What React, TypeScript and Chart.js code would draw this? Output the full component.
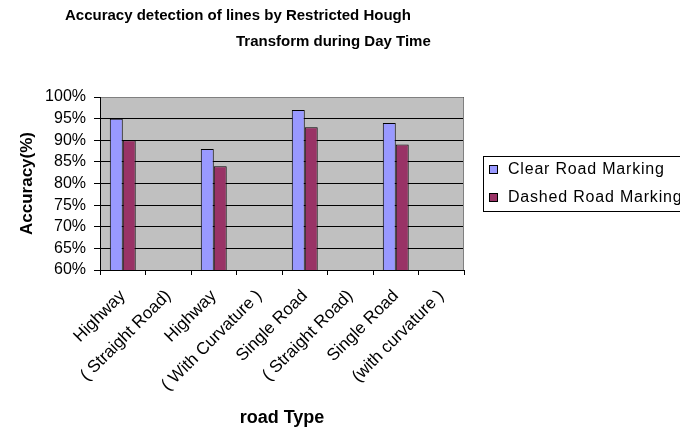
import React, { useEffect, useRef } from "react";
import { Chart, registerables } from "chart.js";

Chart.register(...registerables);

const FONT = "'Liberation Sans', Arial, Helvetica, sans-serif";

const titleLines = [
  "Accuracy detection of lines by Restricted Hough",
  "Transform during Day Time",
];
const categories = [
  "Highway",
  "( Straight Road)",
  "Highway",
  "( With Curvature )",
  "Single Road",
  "( Straight Road)",
  "Single Road",
  "(with curvature )",
];
const seriesNames = ["Clear Road Marking", "Dashed Road Marking"];
const clearRoad = [95, null, 88, null, 97, null, 94, null];
const dashedRoad = [90, null, 84, null, 93, null, 89, null];
const seriesColors = ["#9999FF", "#993366"];
const yMin = 60;
const yMax = 100;
const yStep = 5;
const xTitle = "road Type";
const yTitle = "Accuracy(%)";

export default function App() {
  const ref = useRef<HTMLCanvasElement>(null);

  useEffect(() => {
    if (!ref.current) return;
    const decor = {
      id: "decor",
      beforeDraw(chart: any) {
        const { ctx, chartArea: a } = chart;
        ctx.save();
        ctx.fillStyle = "#C0C0C0";
        ctx.fillRect(a.left, a.top, a.right - a.left, a.bottom - a.top);
        ctx.restore();
      },
      afterDraw(chart: any) {
        const { ctx, chartArea: a } = chart;
        ctx.save();
        // plot border (top/right)
        ctx.strokeStyle = "#808080";
        ctx.lineWidth = 1;
        ctx.beginPath();
        ctx.moveTo(a.left + 1, a.top + 0.5);
        ctx.lineTo(a.right - 0.5, a.top + 0.5);
        ctx.lineTo(a.right - 0.5, a.bottom);
        ctx.stroke();

        // title
        ctx.fillStyle = "#000";
        ctx.font = `bold 15px ${FONT}`;
        ctx.textBaseline = "middle";
        ctx.textAlign = "left";
        ctx.fillText(titleLines[0], 65, 16);
        ctx.fillText(titleLines[1], 236, 42);

        // legend
        const boxL = a.right + 19;
        const boxH = 55;
        const boxT = Math.round((a.top + a.bottom) / 2 - boxH / 2);
        ctx.strokeStyle = "#000";
        ctx.strokeRect(boxL + 0.5, boxT + 0.5, 240, boxH);
        ctx.font = `16px ${FONT}`;
        try {
          (ctx as any).letterSpacing = "0.8px";
        } catch (e) {}
        chart.data.datasets.forEach((ds: any, i: number) => {
          const cy = boxT + 14 + i * 27.5;
          ctx.fillStyle = ds.backgroundColor;
          ctx.fillRect(boxL + 6, Math.round(cy - 5), 9, 9);
          ctx.strokeStyle = "#000";
          ctx.strokeRect(boxL + 6.5, Math.round(cy - 5) + 0.5, 8, 8);
          ctx.fillStyle = "#000";
          ctx.fillText(ds.label, boxL + 25, cy);
        });
        ctx.restore();
      },
    };

    const chart = new Chart(ref.current, {
      type: "bar",
      data: {
        labels: categories,
        datasets: [
          {
            label: seriesNames[0],
            data: clearRoad,
            backgroundColor: seriesColors[0],
            borderColor: "#000",
            borderWidth: 1,
            barPercentage: 1,
            categoryPercentage: 0.57,
          },
          {
            label: seriesNames[1],
            data: dashedRoad,
            backgroundColor: seriesColors[1],
            borderColor: "#000",
            borderWidth: 1,
            barPercentage: 1,
            categoryPercentage: 0.57,
          },
        ],
      },
      options: {
        responsive: false,
        animation: false,
        layout: { padding: { top: 97, right: 216, left: 0, bottom: 0 } },
        plugins: {
          legend: { display: false },
          title: { display: false },
          tooltip: { enabled: false },
        },
        scales: {
          x: {
            grid: {
              offset: true,
              drawOnChartArea: false,
              color: "#000",
              tickLength: 5,
            },
            border: { color: "#000" },
            ticks: {
              autoSkip: false,
              maxRotation: 45,
              minRotation: 45,
              color: "#000",
              padding: 11,
              font: { family: FONT, size: 17 },
            },
            title: {
              display: true,
              text: xTitle,
              color: "#000",
              font: { family: FONT, size: 18, weight: "bold" },
              padding: { top: 0, bottom: 5 },
            },
            afterFit(scale: any) {
              scale.height = 164;
            },
          },
          y: {
            min: yMin,
            max: yMax,
            ticks: {
              stepSize: yStep,
              autoSkip: false,
              callback: (v: any) => v + "%",
              color: "#000",
              padding: 8,
              font: { family: FONT, size: 16 },
            },
            grid: { color: "#000", tickLength: 6 },
            border: { color: "#000" },
            title: {
              display: true,
              text: yTitle,
              color: "#000",
              font: { family: FONT, size: 17, weight: "bold" },
              padding: { top: 17, bottom: 0 },
            },
            afterFit(scale: any) {
              scale.width = 100;
            },
          },
        },
      } as any,
      plugins: [decor],
    });
    return () => chart.destroy();
  }, []);

  return (
    <div style={{ position: "absolute", left: 0, top: 0 }}>
      <canvas ref={ref} width={680} height={434} />
    </div>
  );
}
